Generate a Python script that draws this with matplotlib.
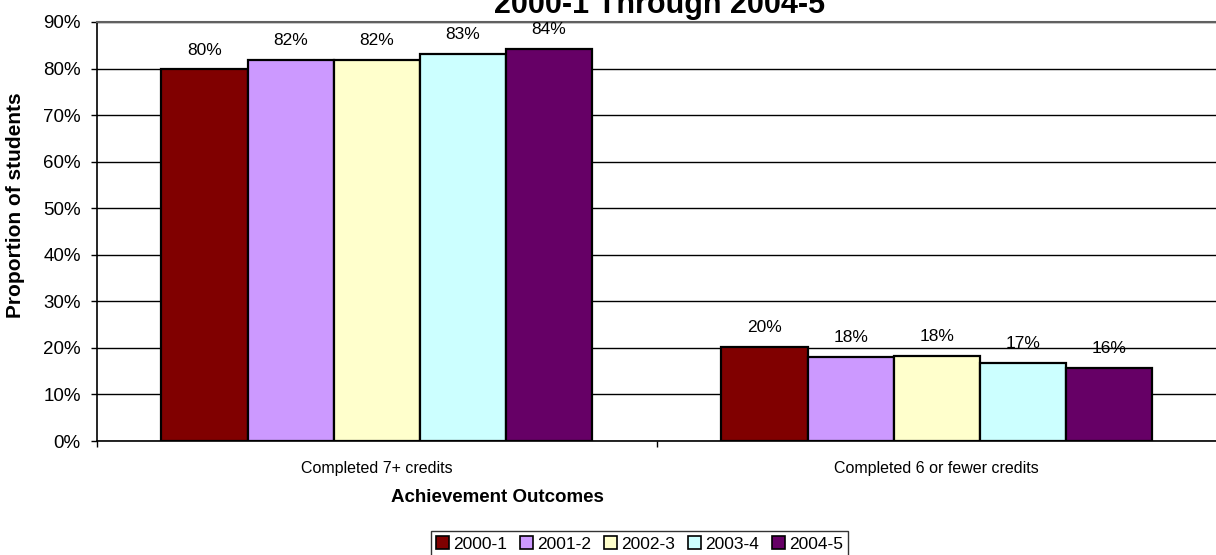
import matplotlib
matplotlib.use("Agg")
import matplotlib.pyplot as plt
from matplotlib.patches import Patch

plt.rcParams['font.family'] = ['Liberation Sans', 'DejaVu Sans']

categories = ["Completed 7+ credits", "Completed 6 or fewer credits"]
years = ["2000-1", "2001-2", "2002-3", "2003-4", "2004-5"]
values = {
    "2000-1": [79.8, 20.2],
    "2001-2": [81.9, 18.1],
    "2002-3": [81.8, 18.2],
    "2003-4": [83.2, 16.8],
    "2004-5": [84.3, 15.7],
}
colors = ["#800000", "#CC99FF", "#FFFFCC", "#CCFFFF", "#660066"]
yticks = [0, 10, 20, 30, 40, 50, 60, 70, 80, 90]

W, H = 1216, 555
fig = plt.figure(figsize=(W / 100, H / 100), dpi=100)
ax = fig.add_axes([96.7 / W, 1 - 441 / H, (1216.7 - 96.7) / W, (441 - 22) / H])

bw = 0.1538
for i, yr in enumerate(years):
    xs = [c + (i - 2) * bw for c in range(len(categories))]
    bars = ax.bar(xs, values[yr], width=bw, color=colors[i], edgecolor="black",
                  linewidth=1.6, zorder=3)
    for b, v in zip(bars, values[yr]):
        ax.annotate(f"{round(v):.0f}%", (b.get_x() + b.get_width() / 2, b.get_height()),
                    xytext=(0, 14), textcoords="offset points", ha="center", va="center",
                    fontsize=12.5, color="black", zorder=4)

ax.set_xlim(-0.5, 1.5)
ax.set_ylim(0, 90)
ax.set_yticks(yticks)
ax.set_yticklabels([f"{t}%" for t in yticks], fontsize=13.5)
ax.yaxis.grid(True, color="black", linewidth=1.0, zorder=0)
ax.set_axisbelow(True)
ax.tick_params(axis="y", direction="out", length=4.3, width=1, pad=7.2)

ax.set_xticks([-0.5, 0.5, 1.5])
ax.set_xticklabels(["", "", ""])
ax.tick_params(axis="x", which="major", direction="out", length=4.3, width=1)
ax.set_xticks([0, 1], minor=True)
ax.set_xticklabels(categories, minor=True, fontsize=11.5)
ax.tick_params(axis="x", which="minor", length=0, pad=14.5)

for s in ["left", "bottom"]:
    ax.spines[s].set_color("black")
    ax.spines[s].set_linewidth(1.2)
ax.spines["top"].set_color("#606060")
ax.spines["top"].set_linewidth(1.5)
ax.spines["right"].set_visible(False)

fig.text(660 / W, 1 - 13 / H, "2000-1 Through 2004-5", ha="center", va="baseline",
         fontsize=22, fontweight="bold")
fig.text(16 / W, 1 - 205 / H, "Proportion of students", rotation=90, ha="center",
         va="center", fontsize=15, fontweight="bold")
fig.text(497 / W, 1 - 497 / H, "Achievement Outcomes", ha="center", va="center",
         fontsize=13.5, fontweight="bold")

handles = [Patch(facecolor=c, edgecolor="black", linewidth=1.2) for c in colors]
leg = fig.legend(handles, years, loc="center left", bbox_to_anchor=(431 / W, 1 - 544 / H),
                 ncol=5, fontsize=12.5, frameon=True, fancybox=False, shadow=False,
                 handlelength=0.75, handleheight=0.75, handletextpad=0.23,
                 columnspacing=0.75, borderpad=0.3, borderaxespad=0)
leg.get_frame().set_edgecolor("black")
leg.get_frame().set_linewidth(1.0)

fig.savefig("out.png", dpi=100)
